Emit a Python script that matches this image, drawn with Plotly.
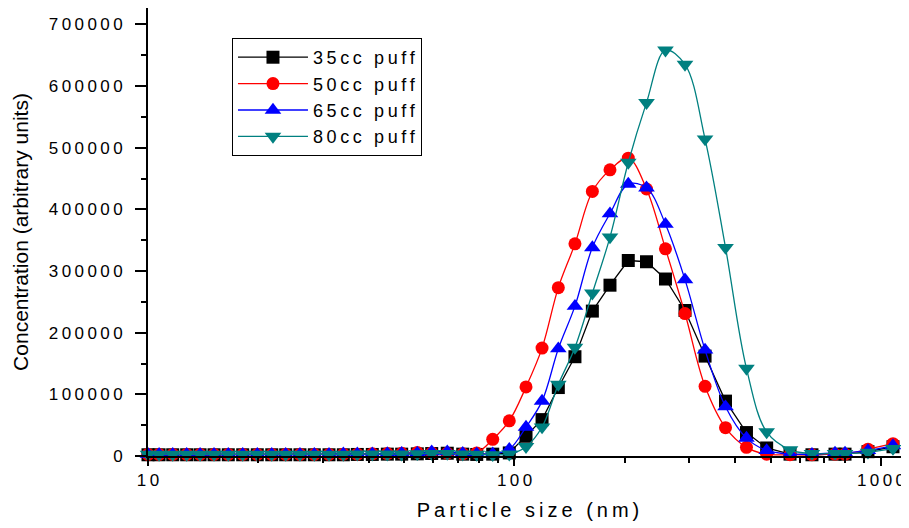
import plotly.graph_objects as go

# Particle size bins (nm)
size_nm = [10.0, 10.72, 11.68, 12.75, 13.87, 15.14, 16.56, 18.13, 19.87, 21.76,
           23.75, 25.98, 28.43, 31.18, 34.12, 37.25, 40.93, 44.98, 49.22, 54.30,
           59.44, 65.55, 72.23, 78.88, 87.21, 96.78, 107.5, 118.9, 131.7, 146.2,
           163.1, 182.2, 204.4, 229.2, 258.2, 291.9, 331.1, 376.5, 429.5, 487.6,
           564.7, 648.1, 749.1, 797.8, 921.5, 1078.3]

puff_35cc = [2000, 2000, 2000, 2000, 2000, 2000, 2000, 2000, 2000, 2000,
             2000, 2000, 2000, 2000, 2000, 2500, 2500, 3000, 3000, 3500,
             4000, 4500, 3000, 2500, 3000, 5000, 32000, 59000, 111000, 161000,
             235000, 277000, 317000, 315000, 287000, 236000, 162000, 89000, 38000, 13000,
             3000, 2000, 3000, 3000, 7000, 15000]

puff_50cc = [2500, 2500, 2500, 2500, 2500, 2500, 2500, 2500, 2500, 2500,
             2500, 2500, 2500, 2500, 3000, 3000, 3500, 4000, 4500, 5500,
             5000, 4500, 3500, 5000, 27000, 57000, 112000, 175000, 273000, 344000,
             429000, 464000, 483000, 433000, 336000, 231000, 113000, 46000, 14000, 3000,
             2000, 2000, 3000, 3000, 11000, 20000]

puff_65cc = [3000, 3000, 3000, 3000, 3000, 3000, 3000, 3000, 3000, 3000,
             3000, 3000, 3000, 3000, 3500, 3500, 3500, 4000, 4500, 5000,
             7000, 7000, 4500, 3500, 3500, 11000, 47000, 89000, 174000, 243000,
             338000, 393000, 441000, 435000, 376000, 286000, 172000, 80000, 29000, 9000,
             3000, 3000, 5000, 5000, 9000, 17000]

puff_80cc = [2500, 2500, 2500, 2500, 2500, 2500, 2500, 2500, 2500, 2500,
             2500, 2500, 2500, 2500, 2500, 3000, 3000, 3000, 3000, 3500,
             4000, 4000, 3000, 2500, 2000, 3000, 15000, 47000, 116000, 176000,
             264000, 355000, 476000, 573000, 658000, 635000, 514000, 338000, 142000, 39000,
             10000, 4000, 4000, 4000, 6000, 12000]

series_names = ["35cc puff", "50cc puff", "65cc puff", "80cc puff"]
series_values = [puff_35cc, puff_50cc, puff_65cc, puff_80cc]
series_colors = ["#000000", "#FF0000", "#0000FF", "#008080"]
series_symbols = ["square", "circle", "triangle-up", "triangle-down"]
series_sizes = [13, 13, 14.5, 14.5]
series_shapes = ["linear", "spline", "spline", "spline"]

y_ticks = [0, 100000, 200000, 300000, 400000, 500000, 600000, 700000]
x_ticks = [10, 100, 1000]
x_title = "Particle size (nm)"
y_title = "Concentration (arbitrary units)"

SP = "\u2009"


def spaced(s):
    return SP.join(list(s))


FONT = "Arial, Liberation Sans, Helvetica, sans-serif"

fig = go.Figure()
for name, vals, col, sym, sz, shp in zip(series_names, series_values, series_colors,
                                          series_symbols, series_sizes, series_shapes):
    fig.add_trace(go.Scatter(
        x=size_nm, y=vals, name=spaced(name), mode="lines+markers",
        line=dict(color=col, width=1.3, shape=shp),
        marker=dict(symbol=sym, size=sz, color=col, line=dict(width=0)),
        cliponaxis=False,
    ))

# page body has an 8px margin; figure is sized to fill the rest of the window
fig.update_layout(
    width=901, height=520,
    margin=dict(l=140, r=1, t=0, b=72, autoexpand=False),
    paper_bgcolor="white", plot_bgcolor="white",
    font=dict(family=FONT, color="#000000"),
    showlegend=True,
    legend=dict(
        x=0.1105, y=0.933, xanchor="left", yanchor="top",
        bordercolor="#000000", borderwidth=1, bgcolor="white",
        font=dict(family=FONT, size=18, color="#000000"),
        itemwidth=70, tracegroupgap=0,
    ),
)

fig.update_xaxes(
    type="log", range=[1, 3.0737], automargin=False,
    showline=True, linecolor="#000000", linewidth=2,
    showgrid=False, zeroline=False, mirror=False,
    tickvals=x_ticks, ticktext=[spaced(str(v)) for v in x_ticks],
    ticks="outside", ticklen=8, tickwidth=1.5, tickcolor="#000000",
    tickfont=dict(family=FONT, size=17, color="#000000"),
    minor=dict(ticks="outside", ticklen=5, tickwidth=1.5, tickcolor="#000000",
               dtick="D1", showgrid=False),
    title=dict(text=spaced(x_title), font=dict(family=FONT, size=20, color="#000000"),
               standoff=14),
)

fig.update_yaxes(
    range=[0, 726500], automargin=False,
    showline=True, linecolor="#000000", linewidth=2,
    showgrid=False, zeroline=False, mirror=False,
    tickvals=y_ticks, ticktext=[spaced(str(v)) for v in y_ticks],
    ticks="outside", ticklen=11, tickwidth=1.5, tickcolor="#000000",
    ticklabelstandoff=9,
    tickfont=dict(family=FONT, size=17, color="#000000"),
    minor=dict(ticks="outside", ticklen=5, tickwidth=1.5, tickcolor="#000000",
               dtick=50000, showgrid=False),
    title=dict(text=y_title, font=dict(family=FONT, size=21, color="#000000"),
               standoff=14),
)

fig.write_html("out.html")
